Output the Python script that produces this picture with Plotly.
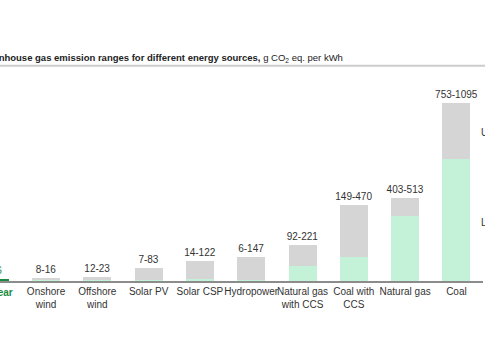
import plotly.graph_objects as go

categories = ["Nuclear", "Onshore<br>wind", "Offshore<br>wind", "Solar PV", "Solar CSP",
              "Hydropower", "Natural gas<br>with CCS", "Coal with<br>CCS", "Natural gas", "Coal"]
lower = [5.1, 7.8, 12, 7.4, 14, 6, 92, 149, 403, 753]
upper = [6.4, 16, 23, 83, 122, 147, 221, 470, 513, 1095]
range_labels = ["5-6", "8-16", "12-23", "7-83", "14-122", "6-147", "92-221", "149-470", "403-513", "753-1095"]

GREEN_LIGHT = "#c3f2d8"
GRAY = "#d5d5d5"
DARK_GREEN = "#1a8a42"
TEXT = "#333333"

lower_colors = [DARK_GREEN] + [GREEN_LIGHT] * (len(categories) - 1)
upper_colors = [DARK_GREEN] + [GRAY] * (len(categories) - 1)
label_colors = [DARK_GREEN] + [TEXT] * (len(categories) - 1)

diff = [u - l for u, l in zip(upper, lower)]

fig = go.Figure()
fig.add_trace(go.Bar(x=categories, y=lower, marker=dict(color=lower_colors, line=dict(width=0)),
                     hoverinfo="skip", name="Lower"))
fig.add_trace(go.Bar(x=categories, y=diff, marker=dict(color=upper_colors, line=dict(width=0)),
                     text=range_labels, textposition="outside", cliponaxis=True, constraintext="none",
                     textfont=dict(size=10, color=label_colors, family="Liberation Sans, Arial"),
                     hoverinfo="skip", name="Upper"))

fig.update_layout(
    width=485, height=360,
    margin=dict(l=0, r=2, t=86, b=79, autoexpand=False),
    barmode="stack", bargap=0.454,
    showlegend=False,
    plot_bgcolor="white", paper_bgcolor="white",
    font=dict(family="Liberation Sans, Arial", size=10, color=TEXT),
    xaxis=dict(type="category", range=[0.103, 9.518], showline=True, linecolor="#8c8c8c",
               linewidth=2, ticks="", showgrid=False, tickangle=0, automargin=False,
               tickfont=dict(size=10, color=TEXT)),
    yaxis=dict(range=[0, 1200], visible=False, showgrid=False),
)

fig.add_annotation(text="<b>Greenhouse gas emission ranges for different energy sources,</b> g CO<sub>2</sub> eq. per kWh",
                   xref="paper", yref="paper", x=345 / 483, y=1.145, xanchor="right", yanchor="middle",
                   showarrow=False, font=dict(size=9.5, color="#222222"))
fig.add_shape(type="line", xref="paper", yref="paper", x0=-0.01, x1=1.01, y0=1.104, y1=1.104,
              line=dict(color="#cccccc", width=2))

fig.add_annotation(text="<b>Nuclear</b>", xref="paper", yref="paper", x=-5.3 / 483, y=0,
                   xanchor="center", yanchor="top", yshift=-4, showarrow=False,
                   font=dict(size=10, color=DARK_GREEN))

fig.add_annotation(text="Upper range", xref="paper", yref="y", x=479 / 483, y=916,
                   xanchor="left", yanchor="middle", showarrow=False, font=dict(size=10, color=TEXT))
fig.add_annotation(text="Lower range", xref="paper", yref="y", x=479 / 483, y=363,
                   xanchor="left", yanchor="middle", showarrow=False, font=dict(size=10, color=TEXT))

fig.write_html("out.html", config={"displayModeBar": False},
               post_script="document.body.style.margin='0';document.body.style.overflow='hidden';")
